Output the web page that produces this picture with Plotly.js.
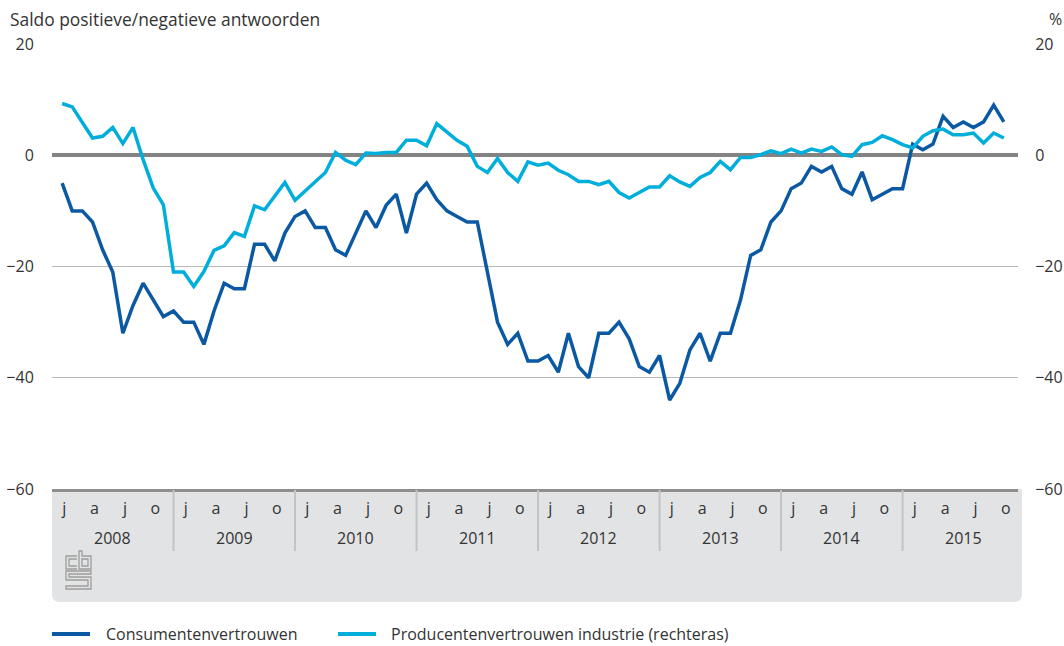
<!DOCTYPE html>
<html><head><meta charset="utf-8">
<script src="https://cdn.plot.ly/plotly-3.0.1.min.js"></script>
<style>html,body{margin:0;padding:0;background:#fff}#chart{width:1064px;height:646px}</style>
</head><body><div id="chart"></div>
<script>
// ---- data ----
const years = ['2008','2009','2010','2011','2012','2013','2014','2015'];
const monthLetters = ['j','a','j','o'];
const quarterStartMonth = [0,3,6,9];
const consumenten = [
  -5,-10,-10,-12,-17,-21,-32,-27,-23,-26,-29,-28,
  -30,-30,-34,-28,-23,-24,-24,-16,-16,-19,-14,-11,
  -10,-13,-13,-17,-18,-14,-10,-13,-9,-7,-14,-7,
  -5,-8,-10,-11,-12,-12,-21,-30,-34,-32,-37,-37,
  -36,-39,-32,-38,-40,-32,-32,-30,-33,-38,-39,-36,
  -44,-41,-35,-32,-37,-32,-32,-26,-18,-17,-12,-10,
  -6,-5,-2,-3,-2,-6,-7,-3,-8,-7,-6,-6,
  2,1,2,7,5,6,5,6,9,6
];
const producenten = [
  9.3,8.7,5.9,3.1,3.4,5.0,2.1,5.0,-0.8,-5.9,-8.9,-21,
  -21,-23.6,-20.9,-17.1,-16.3,-13.9,-14.6,-9.1,-9.8,-7.4,-4.9,-8.1,
  -6.4,-4.7,-3.1,0.5,-0.9,-1.7,0.4,0.3,0.5,0.5,2.7,2.7,
  1.7,5.7,4.1,2.7,1.6,-2.0,-3.1,-0.6,-3.1,-4.7,-1.2,-1.8,
  -1.4,-2.7,-3.5,-4.7,-4.7,-5.3,-4.7,-6.7,-7.7,-6.7,-5.7,-5.7,
  -3.7,-4.8,-5.6,-4.0,-3.1,-1.1,-2.6,-0.4,-0.4,0.1,0.8,0.3,
  1.1,0.4,1.1,0.7,1.5,0.1,-0.2,1.9,2.3,3.5,2.8,1.9,
  1.3,3.4,4.4,4.7,3.7,3.7,4.0,2.2,4.0,3.1
];
const yTicks = [-60,-40,-20,0,20];
const seriesNames = ['Consumentenvertrouwen','Producentenvertrouwen industrie (rechteras)'];
const titleLeft = 'Saldo positieve/negatieve antwoorden';
const titleRight = '%';

// ---- layout helpers ----
const PL = 52, PR = 1018, PT = 44, PB = 489;
const px = v => (v - PL) / (PR - PL);
const py = v => (PB - v) / (PB - PT);
const DARK = '#0b59a3', LIGHT = '#00aedb', TXT = '#333333';
const FONT = 'Open Sans, Noto Sans, sans-serif';

// month-end positions: month i is drawn at i+1 (year boundaries at multiples of 12)
const xPos = consumenten.map((_, i) => i + 1);

const tickvals = [], ticktext = [];
years.forEach((y, k) => quarterStartMonth.forEach((m, q) => {
  tickvals.push(12 * k + m + 1.2); ticktext.push(monthLetters[q]);
}));

const shapes = [];
// grey label box with rounded bottom corners
(function(){
  const x0 = px(52), x1 = px(1022), y0 = py(489), y1 = py(602);
  const rx = 8 / (PR - PL), ry = 8 / (PB - PT);
  shapes.push({type:'path', xref:'paper', yref:'paper', layer:'below',
    path:`M ${x0},${y0} L ${x1},${y0} L ${x1},${y1+ry} Q ${x1},${y1} ${x1-rx},${y1} L ${x0+rx},${y1} Q ${x0},${y1} ${x0},${y1+ry} Z`,
    fillcolor:'#e2e3e5', line:{width:0}});
})();
// year dividers
for (let k = 1; k < years.length; k++) {
  shapes.push({type:'line', xref:'x', yref:'paper', x0:12*k, x1:12*k, y0:py(490), y1:py(551),
    line:{color:'#c2c3c5', width:2}});
}
// cbs logo (outline)
function pathFromPts(list, close){
  return list.map((p,i)=> (i?'L ':'M ') + px(p[0]) + ',' + py(p[1])).join(' ') + (close?' Z':'');
}
const logoPaths = [
  [[[77,556],[66,556],[66,569],[77,569]], false],
  [[[77,559],[69,559],[69,566],[77,566]], false],
  [[[79,551],[79,569],[91,569],[91,556],[82,556],[82,551]], true],
  [[[82,559],[88,559],[88,566],[82,566]], true],
  [[[91,571],[66,571],[66,580],[88,580],[88,586],[66,586],[66,589],[91,589],[91,577],[69,577],[69,574],[91,574]], true]
];
logoPaths.forEach(([pts, c]) => shapes.push({type:'path', xref:'paper', yref:'paper',
  path: pathFromPts(pts, c), line:{color:'#9d9d9d', width:1.3}, fillcolor:'rgba(0,0,0,0)'}));
// legend samples
const LEG_Y = 634;
shapes.push({type:'line', xref:'paper', yref:'paper', x0:px(52), x1:px(90), y0:py(LEG_Y), y1:py(LEG_Y), line:{color:DARK, width:4}});
shapes.push({type:'line', xref:'paper', yref:'paper', x0:px(338), x1:px(376), y0:py(LEG_Y), y1:py(LEG_Y), line:{color:LIGHT, width:4}});

const annotations = [
  {text:titleLeft, xref:'paper', yref:'paper', x:px(8), y:py(19), xanchor:'left', yanchor:'middle', showarrow:false, font:{size:17.4, color:TXT}},
  {text:titleRight, xref:'paper', yref:'paper', x:px(1064), y:py(19), xanchor:'right', yanchor:'middle', showarrow:false, font:{size:16, color:TXT}},
  {text:seriesNames[0], xref:'paper', yref:'paper', x:px(104), y:py(LEG_Y), xanchor:'left', yanchor:'middle', showarrow:false, font:{size:16, color:TXT}},
  {text:seriesNames[1], xref:'paper', yref:'paper', x:px(389), y:py(LEG_Y), xanchor:'left', yanchor:'middle', showarrow:false, font:{size:16, color:TXT}}
];
years.forEach((y, k) => annotations.push({text:y, xref:'x', yref:'paper', x:12*k+6, y:py(538),
  xanchor:'center', yanchor:'middle', showarrow:false, font:{size:16, color:TXT}}));

const data = [
  {x:xPos, y:producenten, name:seriesNames[1], type:'scatter', mode:'lines', yaxis:'y2',
   line:{color:LIGHT, width:3.5}, hoverinfo:'skip'},
  {x:xPos, y:consumenten, name:seriesNames[0], type:'scatter', mode:'lines', yaxis:'y',
   line:{color:DARK, width:3.5}, hoverinfo:'skip'}
];

const layout = {
  width:1064, height:646,
  margin:{l:PL, r:1064-PR, t:PT, b:646-PB, pad:0},
  paper_bgcolor:'#ffffff', plot_bgcolor:'rgba(0,0,0,0)',
  font:{family:FONT, size:16, color:TXT},
  showlegend:false,
  xaxis:{range:[0,95.4], tickmode:'array', tickvals, ticktext, ticks:'outside', ticklen:3,
    tickcolor:'rgba(0,0,0,0)', showgrid:false, zeroline:false, showline:true, linecolor:'#8e8e8e',
    linewidth:3, tickfont:{size:16, color:TXT}, fixedrange:true},
  yaxis:{range:[-60,20], tickmode:'array', tickvals:yTicks, ticks:'outside', ticklen:14,
    tickcolor:'rgba(0,0,0,0)', showgrid:true, gridcolor:'#b8b8b8', gridwidth:1,
    zeroline:true, zerolinecolor:'#838383', zerolinewidth:4, showline:false,
    tickfont:{size:16, color:TXT}, fixedrange:true},
  yaxis2:{range:[-60,20], overlaying:'y', side:'right', tickmode:'array', tickvals:yTicks,
    ticks:'outside', ticklen:13, tickcolor:'rgba(0,0,0,0)', showgrid:false, zeroline:false,
    showline:false, tickfont:{size:16, color:TXT}, fixedrange:true},
  shapes, annotations
};
Plotly.newPlot('chart', data, layout, {staticPlot:true, displayModeBar:false});
</script></body></html>
